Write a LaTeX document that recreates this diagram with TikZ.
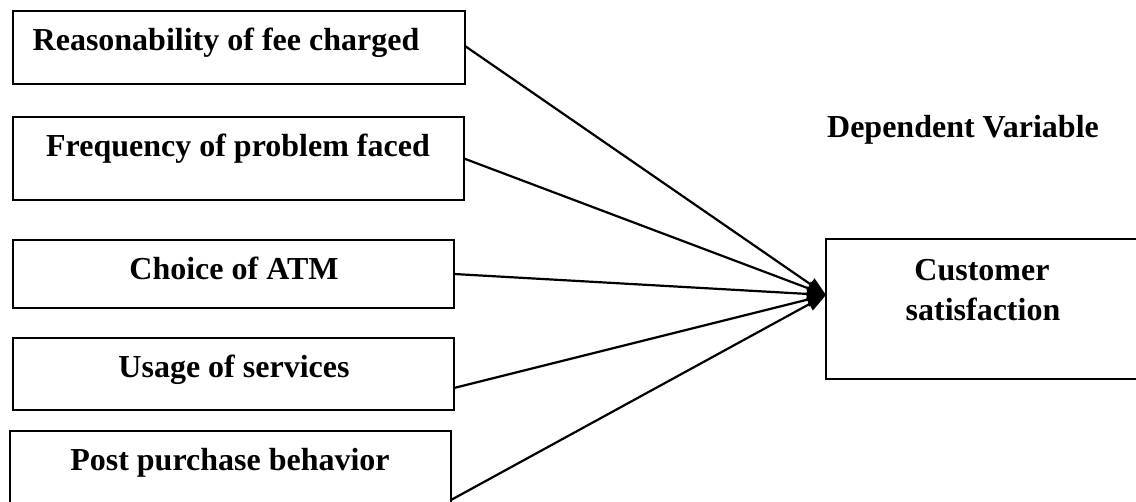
\documentclass[tikz,border=0pt]{standalone}
\usepackage{fontspec}
\setmainfont{Liberation Serif}
\usetikzlibrary{arrows.meta}
\begin{document}
\begin{tikzpicture}[x=1pt,y=-1pt,
  box/.style={draw=black,line width=1.8pt,fill=none,inner sep=0pt,outer sep=0pt},
  lbl/.style={inner sep=0pt,font=\fontsize{32}{40}\selectfont\bfseries,anchor=base},
  conn/.style={line width=2.2pt,-{Triangle[length=19pt,width=14pt]}}]
\useasboundingbox (0,0) rectangle (1136,502);
\clip (0,0) rectangle (1136,502);
\fill[white] (0,0) rectangle (1136,502);
% boxes
\node[box,minimum width=452pt,minimum height=73pt] (b1) at (239,47.5) {};
\node[box,minimum width=451pt,minimum height=83pt] (b2) at (238.5,158.5) {};
\node[box,minimum width=441pt,minimum height=68pt] (b3) at (233.5,274) {};
\node[box,minimum width=441pt,minimum height=72pt] (b4) at (233.5,374) {};
\node[box,minimum width=441pt,minimum height=138pt] (b5) at (230.5,500) {};
\node[box,minimum width=330pt,minimum height=140pt] (cs) at (991,309) {};
% labels
\node[lbl] (t1) at (226,51) {Reasonability of fee charged};
\node[lbl] (t2) at (238,157) {Frequency of problem faced};
\node[lbl] (t3) at (234,280) {Choice of ATM};
\node[lbl] (t4) at (234,378) {Usage of services};
\node[lbl] (t5) at (230,471) {Post purchase behavior};
\node[lbl] (t6) at (982,281) {Customer};
\node[lbl] (t7) at (983,321) {satisfaction};
\node[lbl] (dv) at (963,138) {Dependent Variable};
% connectors
\coordinate (tip) at ([yshift=14pt]cs.west);
\draw[conn] ([yshift=1.5pt]b1.east) -- (tip);
\draw[conn] (b2.east) -- (tip);
\draw[conn] (b3.east) -- (tip);
\draw[conn] ([yshift=-14pt]b4.east) -- (tip);
\draw[conn] (b5.east) -- (tip);
\end{tikzpicture}
\end{document}
